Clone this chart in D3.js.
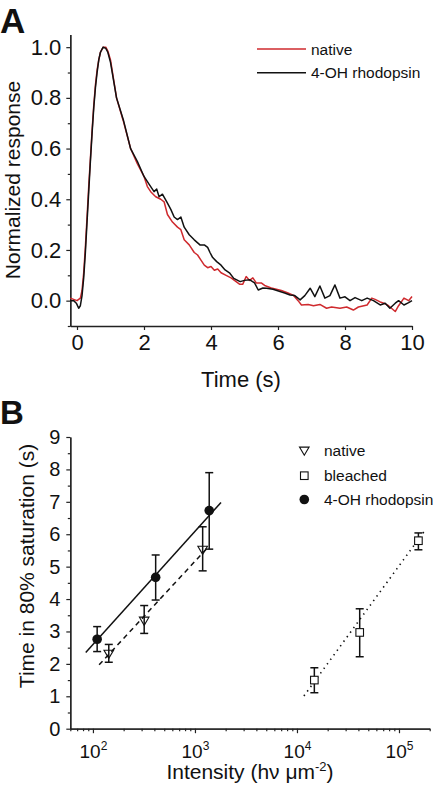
<!DOCTYPE html>
<html>
<head>
<meta charset="utf-8">
<script src="https://cdn.jsdelivr.net/npm/d3@7"></script>
<style>
  html, body { margin: 0; padding: 0; background: #fff; }
  svg { display: block; }
  text { font-family: "Liberation Sans", Arial, Helvetica, sans-serif; fill: #111; }
</style>
</head>
<body>
<svg id="chart" width="433" height="796"></svg>
<script>
// ---------------- Panel A data: normalized response vs time (s) ----------------
const nativeTrace = [
  [-0.2,0.01],[-0.1,0.005],[0,0.0],[0.1,0.01],[0.15,0.04],[0.2,0.11],[0.25,0.21],[0.3,0.33],
  [0.35,0.45],[0.4,0.56],[0.45,0.67],[0.5,0.77],[0.55,0.85],[0.6,0.91],[0.65,0.95],[0.7,0.98],
  [0.78,1.0],[0.86,1.0],[0.92,0.985],[1.0,0.95],[1.18,0.8],[1.38,0.71],[1.6,0.6],[1.8,0.54],
  [2.0,0.49],[2.1,0.45],[2.2,0.43],[2.35,0.41],[2.5,0.40],[2.6,0.39],[2.7,0.34],[2.85,0.31],
  [3.0,0.29],[3.1,0.28],[3.2,0.24],[3.35,0.22],[3.5,0.19],[3.6,0.18],[3.7,0.16],[3.8,0.14],
  [3.9,0.13],[4.0,0.135],[4.1,0.12],[4.2,0.125],[4.3,0.11],[4.45,0.1],[4.6,0.09],[4.7,0.08],
  [4.85,0.065],[4.95,0.065],[5.05,0.095],[5.15,0.08],[5.25,0.09],[5.35,0.07],[5.5,0.07],
  [5.6,0.06],[5.8,0.05],[5.95,0.045],[6.1,0.04],[6.3,0.03],[6.45,0.022],[6.6,0.0],[6.7,-0.017],
  [6.9,-0.015],[7.06,-0.02],[7.25,-0.015],[7.45,-0.03],[7.6,-0.025],[7.85,-0.03],[8.05,-0.025],
  [8.25,-0.037],[8.4,-0.025],[8.66,-0.017],[8.8,0.01],[8.9,0.005],[9.05,-0.005],[9.16,-0.01],
  [9.3,-0.02],[9.5,-0.043],[9.6,-0.02],[9.76,0.01],[9.9,0.0],[10,0.016]
];
const ohTrace = [
  [-0.2,0.0],[-0.1,0.0],[-0.02,-0.01],[0.05,-0.03],[0.1,-0.02],[0.15,0.02],[0.2,0.09],[0.25,0.19],
  [0.3,0.31],[0.35,0.43],[0.4,0.55],[0.45,0.66],[0.5,0.76],[0.55,0.84],[0.6,0.9],[0.65,0.95],
  [0.7,0.98],[0.78,1.0],[0.86,0.995],[0.92,0.98],[1.0,0.94],[1.18,0.8],[1.38,0.715],[1.6,0.6],
  [1.8,0.55],[2.0,0.49],[2.15,0.46],[2.3,0.43],[2.38,0.44],[2.45,0.41],[2.55,0.42],[2.68,0.39],
  [2.8,0.36],[2.9,0.33],[3.0,0.32],[3.1,0.33],[3.2,0.29],[3.35,0.26],[3.5,0.24],[3.67,0.22],
  [3.8,0.22],[3.9,0.21],[3.97,0.19],[4.05,0.17],[4.17,0.154],[4.3,0.14],[4.42,0.121],[4.55,0.11],
  [4.68,0.088],[4.87,0.075],[5.0,0.08],[5.16,0.082],[5.3,0.07],[5.41,0.042],[5.55,0.05],
  [5.66,0.049],[5.85,0.045],[6.06,0.036],[6.2,0.03],[6.36,0.022],[6.5,0.02],[6.66,0.003],
  [6.8,0.02],[6.96,0.049],[7.1,0.016],[7.25,0.058],[7.4,0.01],[7.55,0.02],[7.7,0.062],
  [7.85,0.01],[8.0,0.015],[8.15,0.0],[8.3,0.012],[8.5,0.0],[8.66,0.01],[8.85,0.0],[9.05,-0.017],
  [9.2,-0.01],[9.34,-0.03],[9.5,-0.01],[9.6,0.0],[9.76,-0.017],[9.9,-0.008],[10,0.0]
];
const aXTicks = [0, 2, 4, 6, 8, 10];
const aYTicks = [0.0, 0.2, 0.4, 0.6, 0.8, 1.0];
const aYMinor = [-0.1, 0.1, 0.3, 0.5, 0.7, 0.9];
const aLegend = ["native", "4-OH rhodopsin"];

// ---------------- Panel B data: time in 80% saturation vs intensity ----------------
const bSeries = ["native", "bleached", "4-OH rhodopsin"];
const nativeI = [143, 318, 1190];
const nativeT = [2.31, 3.33, 5.52];
const nativeHi = [2.60, 3.80, 6.23];
const nativeLo = [2.05, 2.94, 4.87];
const bleachedI = [14800, 41200, 155000];
const bleachedT = [1.50, 2.97, 5.80];
const bleachedHi = [1.88, 3.70, 6.04];
const bleachedLo = [1.11, 2.22, 5.52];
const ohI = [110, 412, 1380];
const ohT = [2.76, 4.67, 6.73];
const ohHi = [3.15, 5.36, 7.90];
const ohLo = [2.38, 3.97, 5.54];
const fitOH = [[85, 2.35], [1800, 6.98]];
const fitNative = [[115, 1.97], [1290, 5.54]];
const fitBleached = [[11700, 1.01], [176000, 6.08]];
const bXTicks = [1e2, 1e3, 1e4, 1e5];
const bXTickExp = ["2", "3", "4", "5"];
const bYTicks = [0, 1, 2, 3, 4, 5, 6, 7, 8, 9];
const bYMinor = [0.5, 1.5, 2.5, 3.5, 4.5, 5.5, 6.5, 7.5, 8.5];

const RED = "#cf2a2e";
const svg = d3.select("#chart");

function styleAxis(g) {
  g.select(".domain").attr("stroke", "#222").attr("stroke-width", 1.3);
  g.selectAll(".tick line").attr("stroke", "#222").attr("stroke-width", 1.2);
}

// ================= Panel A =================
const ax = d3.scaleLinear().domain([-0.2, 10]).range([70.3, 412]);
const ay = d3.scaleLinear().domain([-0.1, 1.05]).range([326, 34.5]);

const aYAxis = svg.append("g").attr("transform", "translate(70.3,0)")
  .call(d3.axisLeft(ay).tickValues(aYTicks).tickFormat(d3.format(".1f")).tickSize(4).tickPadding(5).tickSizeOuter(0));
styleAxis(aYAxis);
aYAxis.selectAll("text").style("font-size", "22px").attr("fill", "#111");
const aYMin = svg.append("g").attr("transform", "translate(70.3,0)")
  .call(d3.axisLeft(ay).tickValues(aYMinor).tickFormat("").tickSize(2.5).tickSizeOuter(0));
styleAxis(aYMin);

const aXAxis = svg.append("g").attr("transform", "translate(0,326)")
  .call(d3.axisBottom(ax).tickValues(aXTicks).tickFormat(d3.format("d")).tickSize(4).tickPadding(4).tickSizeOuter(0));
styleAxis(aXAxis);
aXAxis.selectAll("text").style("font-size", "22px").attr("fill", "#111");

const aLine = d3.line().x(d => ax(d[0])).y(d => ay(d[1]));
svg.append("path").datum(nativeTrace).attr("d", aLine)
  .attr("fill", "none").attr("stroke", RED).attr("stroke-width", 1.5).attr("stroke-linejoin", "round");
svg.append("path").datum(ohTrace).attr("d", aLine)
  .attr("fill", "none").attr("stroke", "#111").attr("stroke-width", 1.5).attr("stroke-linejoin", "round");

svg.append("text").attr("x", 241).attr("y", 387).attr("text-anchor", "middle")
  .style("font-size", "22px").text("Time (s)");
svg.append("text").attr("transform", "translate(20,180) rotate(-90)").attr("text-anchor", "middle")
  .style("font-size", "21px").text("Normalized response");
svg.append("text").attr("x", 0).attr("y", 33).style("font-size", "35px").style("font-weight", "bold").text("A");

// legend A
const aLegColors = [RED, "#111"];
aLegend.forEach((name, i) => {
  const yy = 49 + i * 23.7;
  svg.append("line").attr("x1", 257).attr("x2", 306).attr("y1", yy).attr("y2", yy)
    .attr("stroke", aLegColors[i]).attr("stroke-width", 1.5);
  svg.append("text").attr("x", 311).attr("y", yy + 5.5).style("font-size", "15.5px").text(name);
});

// ================= Panel B =================
const bx = d3.scaleLog().domain([60, 2e5]).range([70.3, 429.7]);
const by = d3.scaleLinear().domain([0, 9]).range([728.7, 437]);

const bYAxis = svg.append("g").attr("transform", "translate(70.3,0)")
  .call(d3.axisLeft(by).tickValues(bYTicks).tickFormat(d3.format("d")).tickSize(4).tickPadding(6).tickSizeOuter(0));
styleAxis(bYAxis);
bYAxis.selectAll("text").style("font-size", "20px").attr("fill", "#111");
const bYMin = svg.append("g").attr("transform", "translate(70.3,0)")
  .call(d3.axisLeft(by).tickValues(bYMinor).tickFormat("").tickSize(2.5).tickSizeOuter(0));
styleAxis(bYMin);

const minorLog = bx.ticks().filter(v => !bXTicks.includes(v));
const bXMin = svg.append("g").attr("transform", "translate(0,728.7)")
  .call(d3.axisBottom(bx).tickValues(minorLog).tickFormat("").tickSize(2.5).tickSizeOuter(0));
styleAxis(bXMin);
const bXAxis = svg.append("g").attr("transform", "translate(0,728.7)")
  .call(d3.axisBottom(bx).tickValues(bXTicks).tickFormat("").tickSize(4.5).tickSizeOuter(0));
styleAxis(bXAxis);
bXAxis.selectAll(".tick").append("text")
  .attr("y", 29).attr("text-anchor", "middle").style("font-size", "19px").attr("fill", "#111")
  .each(function(d, i) {
    const t = d3.select(this);
    t.append("tspan").text("10");
    t.append("tspan").attr("dy", -8).style("font-size", "12px").text(bXTickExp[i]);
  });

// fit lines
const bLine = d3.line().x(d => bx(d[0])).y(d => by(d[1]));
svg.append("path").datum(fitOH).attr("d", bLine).attr("stroke", "#111").attr("stroke-width", 1.5).attr("fill", "none");
svg.append("path").datum(fitNative).attr("d", bLine).attr("stroke", "#111").attr("stroke-width", 1.5)
  .attr("stroke-dasharray", "5,4").attr("fill", "none");
svg.append("path").datum(fitBleached).attr("d", bLine).attr("stroke", "#111").attr("stroke-width", 1.6)
  .attr("stroke-dasharray", "1.4,4.2").attr("fill", "none");

function errorBars(I, lo, hi) {
  const g = svg.append("g").attr("stroke", "#111").attr("stroke-width", 1.5);
  I.forEach((v, i) => {
    const x = bx(v);
    g.append("line").attr("x1", x).attr("x2", x).attr("y1", by(lo[i])).attr("y2", by(hi[i]));
    g.append("line").attr("x1", x - 4).attr("x2", x + 4).attr("y1", by(lo[i])).attr("y2", by(lo[i]));
    g.append("line").attr("x1", x - 4).attr("x2", x + 4).attr("y1", by(hi[i])).attr("y2", by(hi[i]));
  });
}
errorBars(nativeI, nativeLo, nativeHi);
errorBars(bleachedI, bleachedLo, bleachedHi);
errorBars(ohI, ohLo, ohHi);

function triPath(cx, cy, s) {
  return `M${cx - s},${cy - s * 0.75}L${cx + s},${cy - s * 0.75}L${cx},${cy + s * 0.95}Z`;
}
function markTri(cx, cy) {
  svg.append("path").attr("d", triPath(cx, cy, 4.8)).attr("fill", "none").attr("stroke", "#111").attr("stroke-width", 1.1);
}
function markSq(cx, cy) {
  svg.append("rect").attr("x", cx - 3.8).attr("y", cy - 3.8).attr("width", 7.6).attr("height", 7.6)
    .attr("fill", "#fff").attr("stroke", "#111").attr("stroke-width", 1.1);
}
function markCirc(cx, cy) {
  svg.append("circle").attr("cx", cx).attr("cy", cy).attr("r", 4.8).attr("fill", "#111");
}
nativeI.forEach((v, i) => markTri(bx(v), by(nativeT[i])));
bleachedI.forEach((v, i) => markSq(bx(v), by(bleachedT[i])));
ohI.forEach((v, i) => markCirc(bx(v), by(ohT[i])));

// legend B
const bLegY = [450.7, 475.7, 499.5];
const bMarkers = [markTri, markSq, markCirc];
bSeries.forEach((name, i) => {
  bMarkers[i](304.3, bLegY[i]);
  svg.append("text").attr("x", 324).attr("y", bLegY[i] + 5.5).style("font-size", "15.5px").text(name);
});

// axis titles
const xt = svg.append("text").attr("x", 250).attr("y", 779).attr("text-anchor", "middle").style("font-size", "21px");
xt.append("tspan").text("Intensity (hν μm");
xt.append("tspan").attr("dy", -8).style("font-size", "13px").text("-2");
xt.append("tspan").attr("dy", 8).text(")");
svg.append("text").attr("transform", "translate(34,566) rotate(-90)").attr("text-anchor", "middle")
  .style("font-size", "21px").text("Time in 80% saturation (s)");
svg.append("text").attr("x", 0).attr("y", 424).style("font-size", "33px").style("font-weight", "bold").text("B");
</script>
</body>
</html>
